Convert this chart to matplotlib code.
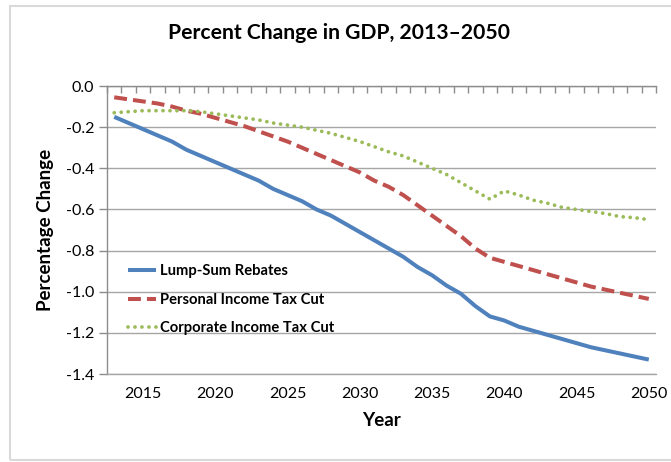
import matplotlib
matplotlib.use("Agg")
import matplotlib.pyplot as plt
from matplotlib.patches import Rectangle
from matplotlib.ticker import FixedLocator, FixedFormatter

years = list(range(2013, 2051))

lump_sum = [-0.15, -0.18, -0.21, -0.24, -0.27, -0.31, -0.34, -0.37, -0.40, -0.43,
            -0.46, -0.50, -0.53, -0.56, -0.60, -0.63, -0.67, -0.71, -0.75, -0.79,
            -0.83, -0.88, -0.92, -0.97, -1.01, -1.07, -1.12, -1.14, -1.17, -1.19,
            -1.21, -1.23, -1.25, -1.27, -1.285, -1.30, -1.315, -1.33]

personal = [-0.055, -0.065, -0.075, -0.085, -0.10, -0.12, -0.135, -0.155, -0.175, -0.195,
            -0.22, -0.245, -0.27, -0.30, -0.33, -0.36, -0.39, -0.42, -0.46, -0.49,
            -0.53, -0.58, -0.63, -0.68, -0.73, -0.79, -0.835, -0.855, -0.875, -0.895,
            -0.915, -0.935, -0.955, -0.975, -0.99, -1.005, -1.02, -1.035]

corporate = [-0.13, -0.125, -0.12, -0.12, -0.12, -0.12, -0.125, -0.135, -0.145, -0.155,
             -0.165, -0.18, -0.19, -0.20, -0.215, -0.23, -0.25, -0.27, -0.295, -0.32,
             -0.34, -0.37, -0.40, -0.43, -0.47, -0.51, -0.55, -0.51, -0.53, -0.555,
             -0.57, -0.59, -0.60, -0.61, -0.62, -0.635, -0.64, -0.65]

series_labels = ["Lump-Sum Rebates", "Personal Income Tax Cut", "Corporate Income Tax Cut"]
y_ticks = [0.0, -0.2, -0.4, -0.6, -0.8, -1.0, -1.2, -1.4]
x_label_years = [2015, 2020, 2025, 2030, 2035, 2040, 2045, 2050]

title = "Percent Change in GDP, 2013\u20132050"

W, H = 671, 462
fig = plt.figure(figsize=(W / 100, H / 100), dpi=100)
plt.rcParams["font.family"] = ["Lato", "DejaVu Sans"]

# outer chart-area frame
fig.patches.append(Rectangle((10 / W, 1 - 460 / H), 700 / W, (460 - 6) / H,
                             transform=fig.transFigure, fill=False,
                             edgecolor="#D9D9D9", linewidth=1.5))

left, right, top, bottom = 107, 656, 86, 374
ax = fig.add_axes([left / W, 1 - bottom / H, (right - left) / W, (bottom - top) / H])

grid_c = "#A6A6A6"
axis_c = "#8C8C8C"

ax.plot(years, lump_sum, color="#4F81BD", lw=2.9, solid_capstyle="butt",
        label=series_labels[0], zorder=3)
ax.plot(years, personal, color="#C0504D", lw=2.9, dashes=(3.2, 1.5),
        dash_capstyle="butt", label=series_labels[1], zorder=3)
ax.plot(years, corporate, color="#9BBB59", lw=2.7, dashes=(0.01, 1.85),
        dash_capstyle="round", label=series_labels[2], zorder=3)

ax.set_xlim(years[0] - 0.5, years[-1] + 0.5)
ax.set_ylim(-1.4, 0.0)

ax.yaxis.set_major_locator(FixedLocator(y_ticks))
ax.yaxis.set_major_formatter(FixedFormatter([f"{v:.1f}" for v in y_ticks]))
ax.grid(axis="y", color=grid_c, lw=1.0, zorder=0)

ax.xaxis.set_major_locator(FixedLocator(x_label_years))
ax.xaxis.set_major_formatter(FixedFormatter([str(y) for y in x_label_years]))
ax.xaxis.set_minor_locator(FixedLocator([y - 0.5 for y in years] + [years[-1] + 0.5]))

ax.tick_params(axis="x", which="major", length=0, pad=9, labelsize=11.5, colors="black")
ax.tick_params(axis="x", which="minor", bottom=False, top=True, direction="in",
               length=5, width=1, color=axis_c)
ax.tick_params(axis="y", which="major", length=6, width=1, color=axis_c,
               pad=3, labelsize=11.5, labelcolor="black")

for side in ("left", "top", "bottom"):
    ax.spines[side].set_color(axis_c)
    ax.spines[side].set_linewidth(1.0)
ax.spines["bottom"].set_color(grid_c)
ax.spines["right"].set_visible(False)

ax.set_xlabel("Year", fontsize=13.5, fontweight="bold", labelpad=8)
ax.set_ylabel("Percentage Change", fontsize=13.5, fontweight="bold", labelpad=9)

fig.text(0.5 * (169 + 510) / W, 1 - 33 / H, title, ha="center", va="center",
         fontsize=15.2, fontweight="bold")

leg = ax.legend(loc="upper left", bbox_to_anchor=(128 / W, 1 - 264 / H),
                bbox_transform=fig.transFigure, frameon=False, borderpad=0,
                borderaxespad=0, handlelength=1.9, handletextpad=0.25,
                labelspacing=1.0, prop={"family": ["Lato", "DejaVu Sans"],
                                        "weight": "bold", "size": 10.6})

fig.savefig("out.png", dpi=100)
